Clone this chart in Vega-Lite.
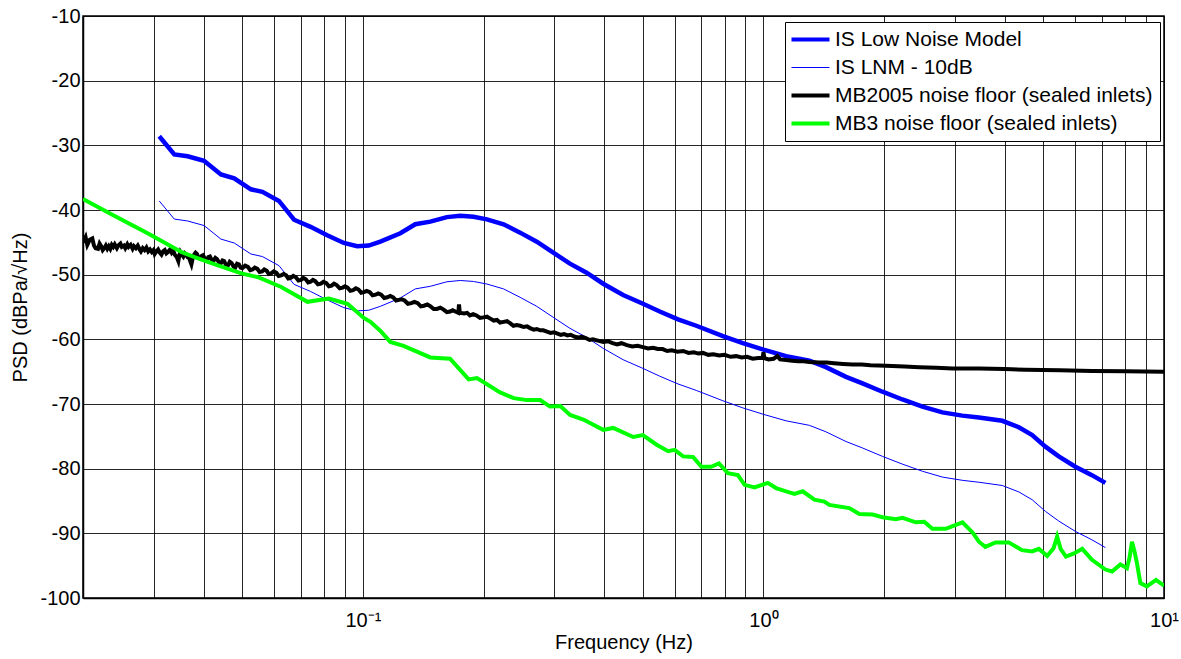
{
  "$schema": "https://vega.github.io/schema/vega-lite/v6.json",
  "autosize": {"type": "none"},
  "width": 1081,
  "height": 582,
  "padding": {"left": 83, "top": 16, "right": 17, "bottom": 61},
  "background": "white",
  "config": {
    "font": "Liberation Sans",
    "view": {"stroke": "#000", "strokeWidth": 1.5},
    "axis": {"domainColor": "#000", "domainWidth": 1.5, "gridColor": "#000", "gridOpacity": 0.85, "gridWidth": 1, "labelColor": "#000", "titleColor": "#000", "labelFont": "Liberation Sans", "titleFont": "Liberation Sans", "titleFontWeight": "normal"}
  },
  "datasets": {
    "lnm": [
      {"f":0.0310,"v":-28.6},{"f":0.0338,"v":-31.4},{"f":0.0365,"v":-31.7},{"f":0.0401,"v":-32.4},{"f":0.0442,"v":-34.5},{"f":0.0477,"v":-35.1},{"f":0.0525,"v":-36.8},{"f":0.0561,"v":-37.2},{"f":0.0617,"v":-38.6},{"f":0.0673,"v":-41.5},{"f":0.0740,"v":-42.6},{"f":0.0814,"v":-43.9},{"f":0.0896,"v":-45.1},{"f":0.0967,"v":-45.6},{"f":0.1034,"v":-45.5},{"f":0.1105,"v":-44.9},{"f":0.1240,"v":-43.6},{"f":0.1351,"v":-42.2},{"f":0.1473,"v":-41.8},{"f":0.1620,"v":-41.1},{"f":0.1750,"v":-40.9},{"f":0.1888,"v":-41.05},{"f":0.2039,"v":-41.45},{"f":0.2244,"v":-42.2},{"f":0.2468,"v":-43.5},{"f":0.2716,"v":-44.9},{"f":0.2987,"v":-46.6},{"f":0.3287,"v":-48.3},{"f":0.3617,"v":-49.7},{"f":0.3980,"v":-51.4},{"f":0.4462,"v":-53.15},{"f":0.5003,"v":-54.5},{"f":0.5508,"v":-55.7},{"f":0.6118,"v":-56.9},{"f":0.6797,"v":-57.9},{"f":0.7920,"v":-59.5},{"f":0.8880,"v":-60.6},{"f":1.0000,"v":-61.6},{"f":1.1390,"v":-62.6},{"f":1.3020,"v":-63.3},{"f":1.4320,"v":-64.3},{"f":1.6070,"v":-65.8},{"f":1.7670,"v":-66.8},{"f":1.9820,"v":-68.1},{"f":2.2230,"v":-69.3},{"f":2.4940,"v":-70.4},{"f":2.7970,"v":-71.3},{"f":3.1360,"v":-71.8},{"f":3.4510,"v":-72.1},{"f":3.9450,"v":-72.6},{"f":4.3420,"v":-73.6},{"f":4.6860,"v":-74.8},{"f":5.0580,"v":-76.6},{"f":5.4600,"v":-78.1},{"f":6.0080,"v":-79.7},{"f":6.6070,"v":-81.0},{"f":7.1400,"v":-82.2}
    ],
    "lnm10": [
      {"f":0.0310,"v":-38.6},{"f":0.0338,"v":-41.4},{"f":0.0365,"v":-41.7},{"f":0.0401,"v":-42.4},{"f":0.0442,"v":-44.5},{"f":0.0477,"v":-45.1},{"f":0.0525,"v":-46.8},{"f":0.0561,"v":-47.2},{"f":0.0617,"v":-48.6},{"f":0.0673,"v":-51.5},{"f":0.0740,"v":-52.6},{"f":0.0814,"v":-53.9},{"f":0.0896,"v":-55.1},{"f":0.0967,"v":-55.6},{"f":0.1034,"v":-55.5},{"f":0.1105,"v":-54.9},{"f":0.1240,"v":-53.6},{"f":0.1351,"v":-52.2},{"f":0.1473,"v":-51.8},{"f":0.1620,"v":-51.1},{"f":0.1750,"v":-50.9},{"f":0.1888,"v":-51.05},{"f":0.2039,"v":-51.45},{"f":0.2244,"v":-52.2},{"f":0.2468,"v":-53.5},{"f":0.2716,"v":-54.9},{"f":0.2987,"v":-56.6},{"f":0.3287,"v":-58.3},{"f":0.3617,"v":-59.7},{"f":0.3980,"v":-61.4},{"f":0.4462,"v":-63.15},{"f":0.5003,"v":-64.5},{"f":0.5508,"v":-65.7},{"f":0.6118,"v":-66.9},{"f":0.6797,"v":-67.9},{"f":0.7920,"v":-69.5},{"f":0.8880,"v":-70.6},{"f":1.0000,"v":-71.6},{"f":1.1390,"v":-72.6},{"f":1.3020,"v":-73.3},{"f":1.4320,"v":-74.3},{"f":1.6070,"v":-75.8},{"f":1.7670,"v":-76.8},{"f":1.9820,"v":-78.1},{"f":2.2230,"v":-79.3},{"f":2.4940,"v":-80.4},{"f":2.7970,"v":-81.3},{"f":3.1360,"v":-81.8},{"f":3.4510,"v":-82.1},{"f":3.9450,"v":-82.6},{"f":4.3420,"v":-83.6},{"f":4.6860,"v":-84.8},{"f":5.0580,"v":-86.6},{"f":5.4600,"v":-88.1},{"f":6.0080,"v":-89.7},{"f":6.6070,"v":-91.0},{"f":7.1400,"v":-92.2}
    ],
    "mb2005": [
      {"f":0.0200,"v":-45.0},{"f":0.0203,"v":-44.2},{"f":0.0205,"v":-45.4},{"f":0.0208,"v":-44.6},{"f":0.0211,"v":-44.4},{"f":0.0213,"v":-45.5},{"f":0.0215,"v":-45.9},{"f":0.0218,"v":-46.0},{"f":0.0220,"v":-45.2},{"f":0.0222,"v":-45.6},{"f":0.0224,"v":-46.2},{"f":0.0226,"v":-45.9},{"f":0.0228,"v":-45.5},{"f":0.0230,"v":-46.0},{"f":0.0232,"v":-45.6},{"f":0.0234,"v":-46.0},{"f":0.0236,"v":-45.4},{"f":0.0238,"v":-45.7},{"f":0.0240,"v":-45.3},{"f":0.0243,"v":-45.9},{"f":0.0245,"v":-45.5},{"f":0.0248,"v":-45.2},{"f":0.0250,"v":-45.7},{"f":0.0253,"v":-45.5},{"f":0.0255,"v":-45.9},{"f":0.0258,"v":-45.3},{"f":0.0260,"v":-45.7},{"f":0.0263,"v":-45.4},{"f":0.0266,"v":-46.0},{"f":0.0268,"v":-45.6},{"f":0.0271,"v":-45.9},{"f":0.0274,"v":-45.5},{"f":0.0277,"v":-46.1},{"f":0.0279,"v":-46.4},{"f":0.0282,"v":-45.9},{"f":0.0285,"v":-46.2},{"f":0.0288,"v":-45.8},{"f":0.0291,"v":-46.4},{"f":0.0294,"v":-46.1},{"f":0.0297,"v":-46.5},{"f":0.0300,"v":-46.2},{"f":0.0302,"v":-46.8},{"f":0.0305,"v":-46.4},{"f":0.0308,"v":-46.1},{"f":0.0311,"v":-46.6},{"f":0.0314,"v":-46.9},{"f":0.0317,"v":-46.4},{"f":0.0320,"v":-46.2},{"f":0.0323,"v":-46.7},{"f":0.0326,"v":-46.5},{"f":0.0330,"v":-46.1},{"f":0.0333,"v":-46.6},{"f":0.0336,"v":-46.3},{"f":0.0339,"v":-46.9},{"f":0.0343,"v":-47.3},{"f":0.0346,"v":-47.9},{"f":0.0348,"v":-47.0},{"f":0.0350,"v":-46.5},{"f":0.0353,"v":-46.9},{"f":0.0356,"v":-47.2},{"f":0.0359,"v":-46.7},{"f":0.0362,"v":-46.9},{"f":0.0365,"v":-47.3},{"f":0.0368,"v":-47.4},{"f":0.0371,"v":-48.0},{"f":0.0373,"v":-48.4},{"f":0.0376,"v":-47.4},{"f":0.0378,"v":-47.0},{"f":0.0382,"v":-46.6},{"f":0.0385,"v":-46.8},{"f":0.0388,"v":-47.3},{"f":0.0392,"v":-47.5},{"f":0.0396,"v":-47.1},{"f":0.0399,"v":-47.0},{"f":0.0403,"v":-47.6},{"f":0.0407,"v":-47.8},{"f":0.0411,"v":-47.3},{"f":0.0415,"v":-47.2},{"f":0.0419,"v":-47.7},{"f":0.0423,"v":-47.9},{"f":0.0428,"v":-47.4},{"f":0.0432,"v":-47.6},{"f":0.0437,"v":-48.1},{"f":0.0441,"v":-48.3},{"f":0.0446,"v":-47.8},{"f":0.0450,"v":-47.9},{"f":0.0455,"v":-48.5},{"f":0.0460,"v":-48.6},{"f":0.0465,"v":-48.0},{"f":0.0470,"v":-48.2},{"f":0.0475,"v":-48.7},{"f":0.0480,"v":-48.9},{"f":0.0485,"v":-48.3},{"f":0.0490,"v":-48.4},{"f":0.0495,"v":-48.9},{"f":0.0500,"v":-49.0},{"f":0.0508,"v":-48.6},{"f":0.0516,"v":-48.8},{"f":0.0523,"v":-49.3},{"f":0.0530,"v":-49.2},{"f":0.0537,"v":-48.9},{"f":0.0545,"v":-49.1},{"f":0.0552,"v":-49.6},{"f":0.0560,"v":-49.5},{"f":0.0567,"v":-49.2},{"f":0.0575,"v":-49.4},{"f":0.0582,"v":-49.9},{"f":0.0590,"v":-49.8},{"f":0.0599,"v":-49.5},{"f":0.0608,"v":-49.7},{"f":0.0616,"v":-50.2},{"f":0.0625,"v":-50.1},{"f":0.0634,"v":-49.9},{"f":0.0643,"v":-50.1},{"f":0.0651,"v":-50.6},{"f":0.0660,"v":-50.5},{"f":0.0670,"v":-50.2},{"f":0.0680,"v":-50.4},{"f":0.0690,"v":-50.9},{"f":0.0700,"v":-50.8},{"f":0.0710,"v":-50.5},{"f":0.0720,"v":-50.7},{"f":0.0730,"v":-51.2},{"f":0.0740,"v":-51.1},{"f":0.0750,"v":-50.8},{"f":0.0760,"v":-51.0},{"f":0.0772,"v":-51.5},{"f":0.0785,"v":-51.4},{"f":0.0797,"v":-51.1},{"f":0.0810,"v":-51.3},{"f":0.0822,"v":-51.8},{"f":0.0835,"v":-51.7},{"f":0.0847,"v":-51.4},{"f":0.0860,"v":-51.6},{"f":0.0875,"v":-52.1},{"f":0.0890,"v":-52.0},{"f":0.0902,"v":-51.8},{"f":0.0915,"v":-52.0},{"f":0.0930,"v":-52.5},{"f":0.0945,"v":-52.4},{"f":0.0960,"v":-52.1},{"f":0.0975,"v":-52.3},{"f":0.0990,"v":-52.8},{"f":0.1005,"v":-52.7},{"f":0.1022,"v":-52.5},{"f":0.1040,"v":-52.7},{"f":0.1057,"v":-53.2},{"f":0.1075,"v":-53.1},{"f":0.1092,"v":-52.9},{"f":0.1110,"v":-53.1},{"f":0.1130,"v":-53.6},{"f":0.1150,"v":-53.5},{"f":0.1170,"v":-53.3},{"f":0.1190,"v":-53.5},{"f":0.1210,"v":-54.0},{"f":0.1230,"v":-53.9},{"f":0.1250,"v":-53.8},{"f":0.1270,"v":-54.0},{"f":0.1295,"v":-54.5},{"f":0.1320,"v":-54.4},{"f":0.1345,"v":-54.2},{"f":0.1370,"v":-54.4},{"f":0.1395,"v":-54.9},{"f":0.1420,"v":-54.8},{"f":0.1448,"v":-54.6},{"f":0.1475,"v":-54.9},{"f":0.1502,"v":-55.3},{"f":0.1530,"v":-55.3},{"f":0.1560,"v":-55.1},{"f":0.1590,"v":-55.4},{"f":0.1620,"v":-55.8},{"f":0.1650,"v":-55.7},{"f":0.1675,"v":-55.5},{"f":0.1700,"v":-55.7},{"f":0.1730,"v":-55.9},{"f":0.1737,"v":-54.6},{"f":0.1745,"v":-55.9},{"f":0.1790,"v":-56.0},{"f":0.1820,"v":-55.9},{"f":0.1850,"v":-56.3},{"f":0.1885,"v":-56.1},{"f":0.1920,"v":-56.3},{"f":0.1960,"v":-56.7},{"f":0.2000,"v":-56.6},{"f":0.2040,"v":-56.5},{"f":0.2080,"v":-56.8},{"f":0.2120,"v":-57.1},{"f":0.2160,"v":-57.0},{"f":0.2200,"v":-57.4},{"f":0.2245,"v":-57.3},{"f":0.2290,"v":-57.2},{"f":0.2330,"v":-57.5},{"f":0.2375,"v":-57.9},{"f":0.2420,"v":-57.8},{"f":0.2470,"v":-57.9},{"f":0.2520,"v":-58.1},{"f":0.2570,"v":-58.0},{"f":0.2620,"v":-58.3},{"f":0.2670,"v":-58.5},{"f":0.2716,"v":-58.4},{"f":0.2770,"v":-58.6},{"f":0.2820,"v":-58.6},{"f":0.2880,"v":-58.8},{"f":0.2940,"v":-59.0},{"f":0.3000,"v":-58.9},{"f":0.3060,"v":-59.1},{"f":0.3120,"v":-59.3},{"f":0.3180,"v":-59.2},{"f":0.3240,"v":-59.4},{"f":0.3300,"v":-59.3},{"f":0.3380,"v":-59.6},{"f":0.3450,"v":-59.7},{"f":0.3520,"v":-59.6},{"f":0.3600,"v":-59.8},{"f":0.3680,"v":-60.1},{"f":0.3750,"v":-60.0},{"f":0.3860,"v":-60.2},{"f":0.3980,"v":-60.4},{"f":0.4090,"v":-60.3},{"f":0.4200,"v":-60.6},{"f":0.4310,"v":-60.8},{"f":0.4420,"v":-60.6},{"f":0.4560,"v":-60.9},{"f":0.4700,"v":-61.1},{"f":0.4850,"v":-61.0},{"f":0.5000,"v":-61.2},{"f":0.5150,"v":-61.4},{"f":0.5300,"v":-61.3},{"f":0.5450,"v":-61.5},{"f":0.5600,"v":-61.5},{"f":0.5750,"v":-61.8},{"f":0.5900,"v":-61.7},{"f":0.6100,"v":-61.9},{"f":0.6300,"v":-61.8},{"f":0.6500,"v":-62.1},{"f":0.6700,"v":-62.0},{"f":0.6880,"v":-62.2},{"f":0.7060,"v":-62.1},{"f":0.7280,"v":-62.4},{"f":0.7500,"v":-62.3},{"f":0.7750,"v":-62.5},{"f":0.8000,"v":-62.4},{"f":0.8270,"v":-62.7},{"f":0.8550,"v":-62.6},{"f":0.8820,"v":-62.8},{"f":0.9100,"v":-62.7},{"f":0.9400,"v":-63.0},{"f":0.9700,"v":-62.9},{"f":0.9950,"v":-62.9},{"f":1.0000,"v":-62.0},{"f":1.0050,"v":-62.9},{"f":1.0300,"v":-63.1},{"f":1.0600,"v":-63.0},{"f":1.0830,"v":-62.6},{"f":1.1000,"v":-63.1},{"f":1.1390,"v":-63.2},{"f":1.1800,"v":-63.3},{"f":1.2200,"v":-63.4},{"f":1.2600,"v":-63.4},{"f":1.3000,"v":-63.5},{"f":1.3790,"v":-63.6},{"f":1.4400,"v":-63.6},{"f":1.5000,"v":-63.7},{"f":1.5800,"v":-63.8},{"f":1.6690,"v":-63.9},{"f":1.7600,"v":-63.9},{"f":1.8500,"v":-64.0},{"f":2.0200,"v":-64.1},{"f":2.2500,"v":-64.2},{"f":2.4470,"v":-64.3},{"f":2.7000,"v":-64.4},{"f":2.9630,"v":-64.5},{"f":3.4500,"v":-64.5},{"f":4.0000,"v":-64.6},{"f":4.5100,"v":-64.7},{"f":5.5000,"v":-64.8},{"f":6.6100,"v":-64.9},{"f":8.0000,"v":-64.95},{"f":10.000,"v":-65.0}
    ],
    "mb3": [
      {"f":0.0200,"v":-38.3},{"f":0.0238,"v":-40.8},{"f":0.0290,"v":-43.6},{"f":0.0352,"v":-46.5},{"f":0.0380,"v":-47.3},{"f":0.0427,"v":-48.4},{"f":0.0497,"v":-49.8},{"f":0.0547,"v":-50.4},{"f":0.0625,"v":-51.9},{"f":0.0727,"v":-54.2},{"f":0.0822,"v":-53.7},{"f":0.0915,"v":-54.5},{"f":0.1005,"v":-56.7},{"f":0.1044,"v":-57.3},{"f":0.1106,"v":-58.7},{"f":0.1170,"v":-60.4},{"f":0.1263,"v":-61.0},{"f":0.1473,"v":-62.8},{"f":0.1650,"v":-63.0},{"f":0.1836,"v":-66.2},{"f":0.1926,"v":-66.0},{"f":0.2201,"v":-68.2},{"f":0.2380,"v":-69.1},{"f":0.2566,"v":-69.4},{"f":0.2770,"v":-69.4},{"f":0.2930,"v":-70.4},{"f":0.3110,"v":-70.3},{"f":0.3290,"v":-71.7},{"f":0.3550,"v":-72.4},{"f":0.3980,"v":-74.0},{"f":0.4215,"v":-73.7},{"f":0.4730,"v":-75.1},{"f":0.5000,"v":-74.8},{"f":0.5410,"v":-76.3},{"f":0.5780,"v":-77.3},{"f":0.6000,"v":-77.1},{"f":0.6300,"v":-78.1},{"f":0.6670,"v":-78.2},{"f":0.7000,"v":-79.7},{"f":0.7400,"v":-79.7},{"f":0.7740,"v":-79.2},{"f":0.8150,"v":-80.7},{"f":0.8630,"v":-81.0},{"f":0.8970,"v":-82.5},{"f":0.9500,"v":-82.9},{"f":1.0250,"v":-82.2},{"f":1.0750,"v":-83.0},{"f":1.1390,"v":-83.5},{"f":1.1950,"v":-83.9},{"f":1.2530,"v":-83.5},{"f":1.3400,"v":-84.8},{"f":1.4190,"v":-85.1},{"f":1.4600,"v":-85.6},{"f":1.6380,"v":-86.1},{"f":1.7350,"v":-87.0},{"f":1.8730,"v":-87.1},{"f":1.9820,"v":-87.5},{"f":2.1410,"v":-87.8},{"f":2.2230,"v":-87.6},{"f":2.4010,"v":-88.3},{"f":2.5200,"v":-88.2},{"f":2.6410,"v":-89.3},{"f":2.8510,"v":-89.3},{"f":3.1400,"v":-88.3},{"f":3.3300,"v":-89.9},{"f":3.4500,"v":-91.3},{"f":3.5800,"v":-92.1},{"f":3.7950,"v":-91.4},{"f":4.0950,"v":-91.4},{"f":4.4200,"v":-92.6},{"f":4.6860,"v":-92.8},{"f":4.8700,"v":-92.4},{"f":5.1100,"v":-93.5},{"f":5.3000,"v":-92.3},{"f":5.4100,"v":-90.5},{"f":5.5200,"v":-92.4},{"f":5.6900,"v":-93.6},{"f":5.9600,"v":-93.1},{"f":6.2500,"v":-92.4},{"f":6.6100,"v":-94.1},{"f":7.1400,"v":-95.6},{"f":7.4200,"v":-95.9},{"f":7.7800,"v":-94.8},{"f":8.0800,"v":-95.4},{"f":8.2000,"v":-93.8},{"f":8.3200,"v":-91.3},{"f":8.4400,"v":-92.8},{"f":8.5600,"v":-94.6},{"f":8.7300,"v":-97.7},{"f":9.0600,"v":-98.2},{"f":9.5500,"v":-97.2},{"f":10.000,"v":-98.1}
    ]
  },
  "encoding": {
    "x": {"field": "f", "type": "quantitative",
      "scale": {"type": "log", "domain": [0.02, 10], "nice": false},
      "axis": {"title": "Frequency (Hz)", "titleFontSize": 20, "titlePadding": 2, "labelFontSize": 20, "labelPadding": 12, "ticks": false,
        "values": [0.03,0.04,0.05,0.06,0.07,0.08,0.09,0.1,0.2,0.3,0.4,0.5,0.6,0.7,0.8,0.9,1,2,3,4,5,6,7,8,9,10],
        "labelExpr": "datum.value == 0.1 ? '10⁻¹' : datum.value == 1 ? '10⁰' : datum.value == 10 ? '10¹' : ''",
        "labelOverlap": false, "labelFlush": false}},
    "y": {"field": "v", "type": "quantitative",
      "scale": {"domain": [-100, -10], "nice": false},
      "axis": {"title": "PSD (dBPa/√Hz)", "titleFontSize": 20, "titlePadding": 9, "labelFontSize": 20, "labelPadding": 3, "ticks": false,
        "labelExpr": "'' + datum.value",
        "values": [-100,-90,-80,-70,-60,-50,-40,-30,-20,-10]}},
    "color": {"type": "nominal",
      "scale": {"domain": ["IS Low Noise Model", "IS LNM - 10dB", "MB2005 noise floor (sealed inlets)", "MB3 noise floor (sealed inlets)"], "range": ["#0000ff", "#0000ff", "#000000", "#00ff00"]},
      "legend": {"title": null, "orient": "none", "legendX": 702, "legendY": 6, "fillColor": "white", "strokeColor": "#000", "padding": 7, "rowPadding": 6, "symbolType": "stroke", "symbolSize": 1444, "symbolStrokeWidth": 4, "symbolOffset": 8, "labelFontSize": 21, "labelLimit": 500, "labelOffset": 14, "labelColor": "#000", "labelFont": "Liberation Sans",
        "encode": {"symbols": {"update": {"strokeWidth": {"signal": "datum.value === 'IS LNM - 10dB' ? 1 : 4"}}}}}}
  },
  "layer": [
    {"data": {"name": "lnm"}, "mark": {"type": "line", "strokeWidth": 4.5, "clip": true}, "encoding": {"color": {"datum": "IS Low Noise Model"}}},
    {"data": {"name": "lnm10"}, "mark": {"type": "line", "strokeWidth": 1, "clip": true}, "encoding": {"color": {"datum": "IS LNM - 10dB"}}},
    {"data": {"name": "mb2005"}, "mark": {"type": "line", "strokeWidth": 4, "clip": true}, "encoding": {"color": {"datum": "MB2005 noise floor (sealed inlets)"}}},
    {"data": {"name": "mb3"}, "mark": {"type": "line", "strokeWidth": 4, "clip": true}, "encoding": {"color": {"datum": "MB3 noise floor (sealed inlets)"}}}
  ]
}
